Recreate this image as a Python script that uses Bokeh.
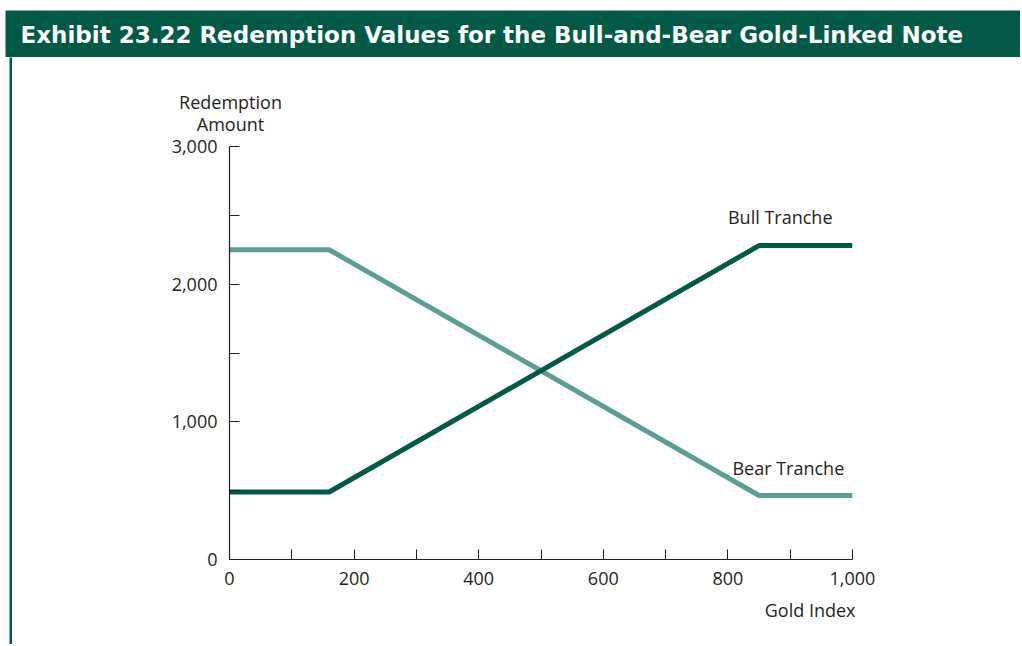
from bokeh.plotting import figure
from bokeh.models import Range1d, FixedTicker, Label, NumeralTickFormatter, Title, Spacer
from bokeh.layouts import column, row
from bokeh.embed import file_html
from bokeh.resources import INLINE

# ---- data ----
gold_index = [0, 160, 850, 1000]
bull_tranche = [490, 490, 2280, 2280]
bear_tranche = [2250, 2250, 465, 465]
x_ticks = [0, 200, 400, 600, 800, 1000]
x_minor = [100, 300, 500, 700, 900]
y_ticks = [0, 1000, 2000, 3000]
y_minor = [500, 1500, 2500]

GREEN = "#005a46"
TEAL = "#5c9e93"
INK = "#231f20"
FONT = "Open Sans"

def blank(w, h, color):
    f = figure(width=w, height=h, x_axis_location=None, y_axis_location=None,
               toolbar_location=None, output_backend="svg", min_border=0,
               x_range=Range1d(0, 1), y_range=Range1d(0, 1))
    f.background_fill_color = color
    f.border_fill_color = color
    f.outline_line_color = None
    f.grid.visible = False
    f.frame_align = False
    return f

# ---- title bar ----
tb = blank(1015, 47, GREEN)
tb.add_layout(Label(x=15, y=23, x_units="screen", y_units="screen",
                    text="Exhibit 23.22 Redemption Values for the Bull-and-Bear Gold-Linked Note",
                    text_color="white", text_font="DejaVu Sans", text_font_style="bold",
                    text_font_size="23px", text_baseline="middle"))

# ---- left bar ----
bar = blank(3, 587, GREEN)

# ---- y-axis heading ----
head = blank(1008, 77, "white")
for t, yy in (("Redemption", 33), ("Amount", 11)):
    head.add_layout(Label(x=218, y=yy, x_units="screen", y_units="screen", text=t,
                          text_font=FONT, text_font_size="18px", text_color=INK,
                          text_align="center", text_baseline="middle"))

# ---- main chart ----
p = figure(width=1008, height=510, toolbar_location=None, output_backend="svg",
           x_range=Range1d(0, 1000), y_range=Range1d(0, 3000),
           min_border_left=217, min_border_right=168, min_border_top=12,
           min_border_bottom=85)
p.frame_align = False
p.outline_line_color = None
p.grid.visible = False
p.background_fill_color = "white"
p.border_fill_color = "white"

p.line(gold_index, bear_tranche, line_color=TEAL, line_width=5, line_join="round")
p.line(gold_index, bull_tranche, line_color=GREEN, line_width=5, line_join="round")

for ax in (p.xaxis[0], p.yaxis[0]):
    ax.axis_line_color = INK
    ax.axis_line_width = 1.2
    ax.major_tick_line_color = INK
    ax.minor_tick_line_color = INK
    ax.major_tick_in = 10
    ax.major_tick_out = 0
    ax.minor_tick_in = 10
    ax.minor_tick_out = 0
    ax.major_label_text_font = FONT
    ax.major_label_text_font_size = "18px"
    ax.major_label_text_color = INK
    ax.formatter = NumeralTickFormatter(format="0,0")

p.xaxis[0].ticker = FixedTicker(ticks=x_ticks, minor_ticks=x_minor)
p.yaxis[0].ticker = FixedTicker(ticks=y_ticks, minor_ticks=y_minor)
p.xaxis[0].major_label_standoff = 12
p.yaxis[0].major_label_standoff = 12

def lab(x, y, t):
    p.add_layout(Label(x=x, y=y, text=t, text_font=FONT, text_font_size="18px",
                       text_color=INK, text_align="center", text_baseline="middle"))

lab(884, 2485, "Bull Tranche")
lab(897, 668, "Bear Tranche")

p.add_layout(Title(text="Gold Index", align="right", offset=-3, standoff=16,
                   text_font=FONT, text_font_size="18px", text_color=INK,
                   text_font_style="normal"), "below")

layout = column(
    Spacer(height=10),
    row(Spacer(width=5), tb),
    row(Spacer(width=9), bar, column(head, p)),
)
open("out.html", "w").write(file_html(layout, INLINE))
